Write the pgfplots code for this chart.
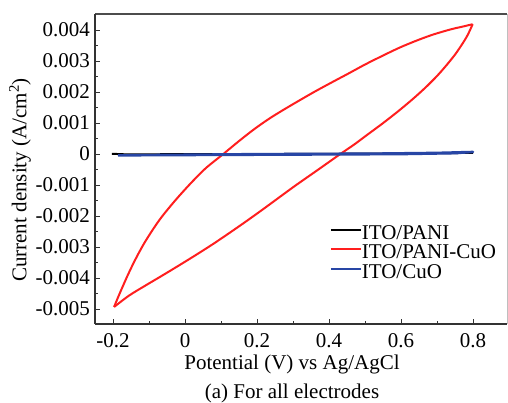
\documentclass[border=0pt]{standalone}
\usepackage{fontspec}
\setmainfont{Liberation Serif}
\usepackage{pgfplots}
\pgfplotsset{compat=1.18}
\definecolor{cvred}{RGB}{255,30,30}
\definecolor{cvblue}{RGB}{40,70,165}
\begin{document}
\begin{tikzpicture}[font=\rmfamily\fontsize{21}{25}\selectfont]
\path[use as bounding box] (-95pt,-79pt) rectangle (413pt,324pt);
\begin{axis}[
  scale only axis,
  width=412pt, height=310pt,
  xmin=-0.25, xmax=0.8944,
  ymin=-0.00548, ymax=0.00452,
  enlargelimits=false,
  axis line style={draw=none},
  xtick={-0.2,0,0.2,0.4,0.6,0.8},
  xticklabels={\textrm{-0.2},\textrm{0},\textrm{0.2},\textrm{0.4},\textrm{0.6},\textrm{0.8}},
  minor xtick={-0.1,0.1,0.3,0.5,0.7},
  ytick={-0.005,-0.004,-0.003,-0.002,-0.001,0,0.001,0.002,0.003,0.004},
  yticklabels={\textrm{-0.005},\textrm{-0.004},\textrm{-0.003},\textrm{-0.002},\textrm{-0.001},\textrm{0},\textrm{0.001},\textrm{0.002},\textrm{0.003},\textrm{0.004}},
  minor ytick={-0.0045,-0.0035,-0.0025,-0.0015,-0.0005,0.0005,0.0015,0.0025,0.0035,0.0045},
  scaled y ticks=false,
  xtick pos=bottom, ytick pos=left,
  tick align=inside,
  major tick length=5pt, minor tick length=3pt,
  every tick/.style={line width=1pt, black!80},
  xticklabel style={inner sep=0pt, anchor=north, yshift=-9pt},
  yticklabel style={inner sep=0pt, anchor=east, xshift=-5pt},
  tick label style={font=\rmfamily\fontsize{21}{25}\selectfont},
  legend style={draw=none, fill=none, at={(rel axis cs:0.570,0.319)}, anchor=north west,
    inner sep=0pt, outer sep=0pt, row sep=0pt,
    nodes={inner sep=0pt, text height=14pt, text depth=5.5pt},
    font=\rmfamily\fontsize{21}{25}\selectfont},
  legend cell align=left,
  legend image code/.code={\draw[#1, line width=2pt] (0pt,5pt) -- (30pt,5pt);},
]
% ITO/PANI
\addplot[black, line width=2pt] coordinates {
(-0.203,0.00001) (-0.18,0.0) (-0.16,-0.00001) (0.0,0.0) (0.2,0.0) (0.4,0.00001) (0.6,0.00002) (0.8,0.00004)
};
\addlegendentry{ITO/PANI}
% ITO/PANI-CuO, anodic branch
\addplot[cvred, line width=2pt, smooth, tension=0.5] coordinates {
(-0.197,-0.00493) (-0.186,-0.00462) (-0.176,-0.00435) (-0.160,-0.00393) (-0.144,-0.00354)
(-0.128,-0.00318) (-0.111,-0.00283) (-0.088,-0.00241) (-0.065,-0.00203) (-0.032,-0.00156)
(0.000,-0.00114) (0.030,-0.00077) (0.060,-0.00043) (0.106,0.00000) (0.153,0.00045)
(0.194,0.00082) (0.236,0.00116) (0.278,0.00146) (0.319,0.00174) (0.361,0.00202)
(0.407,0.00231) (0.454,0.00260) (0.500,0.00289) (0.550,0.00318) (0.597,0.00344)
(0.645,0.00367) (0.690,0.00386) (0.740,0.00403) (0.770,0.00411) (0.799,0.00419)
};
\addlegendentry{ITO/PANI-CuO}
% ITO/PANI-CuO, cathodic branch
\addplot[cvred, line width=2pt, smooth, tension=0.5, forget plot] coordinates {
(0.799,0.00419) (0.785,0.00384) (0.770,0.00355) (0.750,0.00321) (0.725,0.00285) (0.700,0.00252)
(0.670,0.00217) (0.635,0.00180) (0.595,0.00141) (0.550,0.00100) (0.500,0.00057)
(0.470,0.00031) (0.431,0.00000) (0.370,-0.00050) (0.306,-0.00102) (0.260,-0.00141)
(0.213,-0.00181) (0.166,-0.00220) (0.120,-0.00257) (0.074,-0.00293) (0.028,-0.00327)
(-0.018,-0.00360) (-0.065,-0.00393) (-0.110,-0.00424) (-0.155,-0.00456) (-0.197,-0.00493)
};
% ITO/CuO
\addplot[cvblue, line width=2.5pt, line join=round] coordinates {
(-0.186,-0.00004) (0.0,-0.00002) (0.2,0.0) (0.4,0.00001) (0.55,0.00002) (0.7,0.00004) (0.8,0.00007)
(0.75,0.00003) (0.6,0.0) (0.4,-0.00001) (0.2,-0.00002) (0.0,-0.00003) (-0.186,-0.00004)
};
\addlegendentry{ITO/CuO}
\end{axis}
\draw[black!25, line width=1pt] (412pt,0pt) -- (412pt,310pt);
\draw[black!70, line width=1.8pt] (0pt,310pt) -- (412pt,310pt);
\draw[black!80, line width=1.8pt] (0pt,0pt) -- (412pt,0pt);
\draw[black!80, line width=1.8pt] (0pt,0pt) -- (0pt,310pt);
\node[rotate=90] at (-75pt,144pt) {Current density (A/cm\textsuperscript{2})};
\node at (197pt,-40pt) {Potential (V) vs Ag/AgCl};
\node at (197pt,-69pt) {(a) For all electrodes};
\end{tikzpicture}
\end{document}
